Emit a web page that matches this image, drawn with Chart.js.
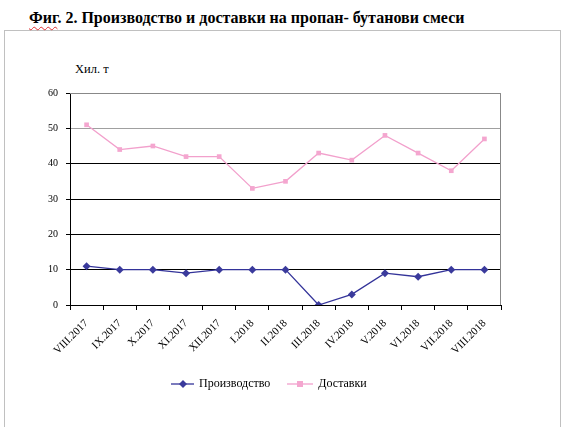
<!DOCTYPE html>
<html>
<head>
<meta charset="utf-8">
<script src="https://cdn.jsdelivr.net/npm/chart.js@4.4.1/dist/chart.umd.min.js"></script>
<style>
  html, body { margin: 0; padding: 0; background: #fff; }
  body { width: 564px; height: 427px; position: relative; overflow: hidden; font-family: "Liberation Serif", "Times New Roman", serif; }
  #title { position: absolute; left: 29px; top: 9px; font-size: 16px; font-weight: bold; white-space: nowrap; color: #000; }
  #title .sp { text-decoration: underline wavy #e03030; text-decoration-skip-ink: none; text-underline-offset: 3px; text-decoration-thickness: 1px; }
  #frame { position: absolute; left: 4px; top: 30px; width: 557px; height: 420px; border: 1px solid #c0c0c0; box-sizing: border-box; }
  #unit { position: absolute; left: 75px; top: 62px; font-size: 12.5px; color: #000; }
  #wrap { position: absolute; left: 0; top: 0; width: 564px; height: 427px; }
  #legend { position: absolute; top: 376px; left: 171px; font-size: 12px; white-space: nowrap; display: flex; align-items: center; }
  #legend .item { display: flex; align-items: center; }
  #legend svg { display: block; margin-right: 5px; }
</style>
</head>
<body>
<div id="frame"></div>
<div id="title"><span class="sp">Фиг</span>. 2. Производство и доставки на пропан- бутанови смеси</div>
<div id="unit">Хил. т</div>
<div id="wrap"><canvas id="c" width="564" height="427"></canvas></div>
<div id="legend">
  <div class="item"><svg width="23" height="10"><line x1="0" y1="5" x2="23" y2="5" stroke="#333399" stroke-width="1.3"/><polygon points="12,1 16,5 12,9 8,5" fill="#3a3a9c"/></svg><span>Производство</span></div>
  <div class="item" style="margin-left:17px"><svg width="26" height="10"><line x1="0" y1="5" x2="26" y2="5" stroke="#f2a0cc" stroke-width="1.3"/><rect x="10" y="2" width="6" height="6" fill="#f4a6cf"/></svg><span>Доставки</span></div>
</div>
<script>
const categories = ["VIII.2017","IX.2017","X.2017","XI.2017","XII.2017","I.2018","II.2018","III.2018","IV.2018","V.2018","VI.2018","VII.2018","VIII.2018"];
const production = [11,10,10,9,10,10,10,0,3,9,8,10,10];
const deliveries = [51,44,45,42,42,33,35,43,41,48,43,38,47];
const yTicks = [0,10,20,30,40,50,60];

const frameBorder = {
  id: 'frameBorder',
  afterDatasetsDraw(chart) {
    const a = chart.chartArea, ctx = chart.ctx;
    ctx.save();
    ctx.strokeStyle = '#888888';
    ctx.lineWidth = 1;
    ctx.beginPath();
    ctx.moveTo(a.left, a.top + 0.5);
    ctx.lineTo(a.right - 0.5, a.top + 0.5);
    ctx.lineTo(a.right - 0.5, a.bottom);
    ctx.stroke();
    ctx.restore();
  }
};

new Chart(document.getElementById('c'), {
  type: 'line',
  data: {
    labels: categories,
    datasets: [
      {
        label: 'Производство',
        data: production,
        borderColor: '#333399',
        backgroundColor: '#3a3a9c',
        borderWidth: 1.3,
        pointStyle: 'rectRot',
        pointRadius: 4,
        pointBorderWidth: 0,
        tension: 0
      },
      {
        label: 'Доставки',
        data: deliveries,
        borderColor: '#f2a0cc',
        backgroundColor: '#f4a6cf',
        borderWidth: 1.3,
        pointStyle: 'rect',
        pointRadius: 3.3,
        pointBorderWidth: 0,
        tension: 0
      }
    ]
  },
  options: {
    responsive: false,
    animation: false,
    devicePixelRatio: 1,
    layout: { padding: { left: 0, right: 63, top: 93, bottom: 0 } },
    plugins: { legend: { display: false }, tooltip: { enabled: false }, title: { display: false } },
    scales: {
      x: {
        type: 'category',
        offset: true,
        grid: { offset: true, drawOnChartArea: false, tickLength: 5, color: '#000', tickColor: '#000' },
        border: { color: '#000', width: 1 },
        ticks: {
          minRotation: 45, maxRotation: 45, autoSkip: false, padding: 7,
          color: '#000', font: { family: '"Liberation Serif", "Times New Roman", serif', size: 11 }
        },
        afterFit(scale) { scale.height = 122; }
      },
      y: {
        min: 0, max: 60,
        afterBuildTicks(scale) { scale.ticks = yTicks.map(v => ({ value: v })); },
        grid: {
          color(ctx) {
            const v = ctx.tick && ctx.tick.value;
            if (v === 0) return 'rgba(0,0,0,0)';
            if (v === 50 || v === 60) return '#a0a0a0';
            return '#000';
          },
          tickColor: '#000',
          tickLength: 4,
          lineWidth: 1
        },
        border: { color: '#000', width: 1 },
        ticks: {
          padding: 8, color: '#000',
          font: { family: '"Liberation Serif", "Times New Roman", serif', size: 10 }
        },
        afterFit(scale) { scale.width = 70; }
      }
    }
  },
  plugins: [frameBorder]
});
</script>
</body>
</html>
